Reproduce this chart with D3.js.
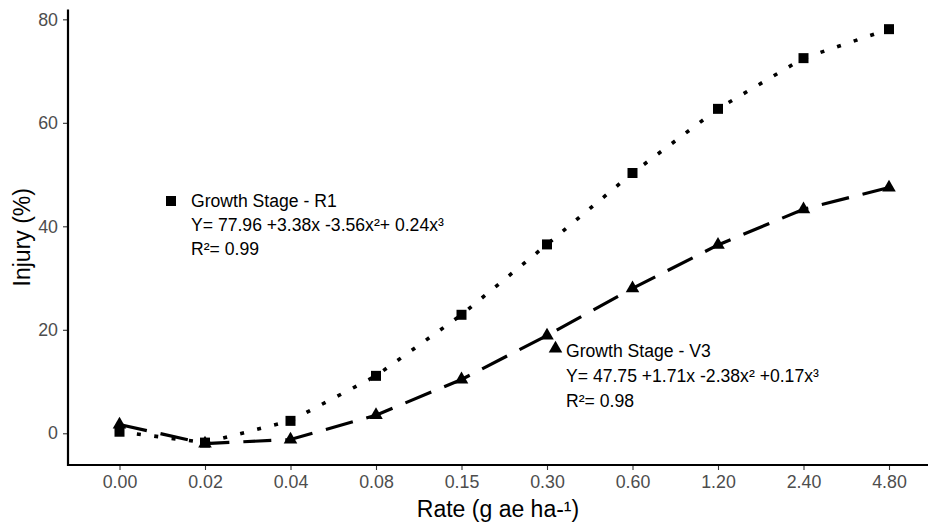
<!DOCTYPE html>
<html>
<head>
<meta charset="utf-8">
<script src="https://cdn.jsdelivr.net/npm/d3@7"></script>
<style>
  html, body { margin: 0; padding: 0; background: #fff; }
  svg { display: block; font-family: "Liberation Sans", Arial, sans-serif; }
</style>
</head>
<body>
<svg id="chart" width="928" height="525"></svg>
<script>
// ---- data ----
const rates = ["0.00", "0.02", "0.04", "0.08", "0.15", "0.30", "0.60", "1.20", "2.40", "4.80"];
const injuryR1 = [0.3, -1.8, 2.4, 11.1, 22.9, 36.5, 50.3, 62.7, 72.5, 78.1];
const injuryV3 = [1.7, -2.0, -1.2, 3.5, 10.4, 18.9, 28.0, 36.4, 43.3, 47.5];
const yTicks = [0, 20, 40, 60, 80];
const labelR1 = ["Growth Stage - R1", "Y= 77.96 +3.38x -3.56x²+ 0.24x³", "R²= 0.99"];
const labelV3 = ["Growth Stage - V3", "Y= 47.75 +1.71x -2.38x² +0.17x³", "R²= 0.98"];

// ---- layout ----
const svg = d3.select("#chart");
const panel = { left: 68, right: 928, top: 9.5, bottom: 465 };

const x = d3.scalePoint().domain(rates).range([119.5, 889]);
const y = d3.scaleLinear().domain([-6.13, 81.9]).range([panel.bottom, panel.top]);

const FONT = "'Liberation Sans', Arial, sans-serif";

// axes
const xAxis = svg.append("g")
  .attr("transform", `translate(0,${panel.bottom})`)
  .call(d3.axisBottom(x).tickSizeOuter(0).tickSize(5).tickPadding(5));
xAxis.select(".domain").remove();
xAxis.selectAll(".tick line").attr("stroke", "#333").attr("stroke-width", 1.1);
xAxis.selectAll(".tick text").attr("fill", "#4d4d4d").style("font-size", "17.8px")
  .style("font-family", FONT);

const yAxis = svg.append("g")
  .attr("transform", `translate(${panel.left},0)`)
  .call(d3.axisLeft(y).tickValues(yTicks).tickSize(5).tickPadding(5).tickFormat(d3.format("d")));
yAxis.select(".domain").remove();
yAxis.selectAll(".tick line").attr("stroke", "#333").attr("stroke-width", 1.1);
yAxis.selectAll(".tick text").attr("fill", "#4d4d4d").style("font-size", "17.8px")
  .style("font-family", FONT);

// axis lines
svg.append("line").attr("x1", panel.left).attr("x2", panel.right)
  .attr("y1", panel.bottom).attr("y2", panel.bottom)
  .attr("stroke", "#000").attr("stroke-width", 2.2);
svg.append("line").attr("x1", panel.left).attr("x2", panel.left)
  .attr("y1", panel.top).attr("y2", panel.bottom + 1.1)
  .attr("stroke", "#000").attr("stroke-width", 2.2);

// axis titles
svg.append("text").attr("x", (panel.left + panel.right) / 2).attr("y", 517)
  .attr("text-anchor", "middle").style("font-size", "23px").attr("fill", "#000")
  .text("Rate (g ae ha-¹)");
svg.append("text").attr("transform", `translate(30,${(panel.top + panel.bottom) / 2}) rotate(-90)`)
  .attr("text-anchor", "middle").style("font-size", "23px").attr("fill", "#000")
  .text("Injury (%)");

// lines
const line = d3.line().x((d, i) => x(rates[i])).y(d => y(d));
svg.append("path").datum(injuryR1).attr("d", line)
  .attr("fill", "none").attr("stroke", "#000").attr("stroke-width", 3.6)
  .attr("stroke-dasharray", "4,13.5");
svg.append("path").datum(injuryV3).attr("d", line)
  .attr("fill", "none").attr("stroke", "#000").attr("stroke-width", 3.2)
  .attr("stroke-dasharray", "28,14");

// points
const sq = d3.symbol().type(d3.symbolSquare).size(100);
const tri = d3.symbol().type(d3.symbolTriangle).size(80);
svg.append("g").selectAll("path").data(injuryV3).join("path")
  .attr("d", tri).attr("fill", "#000")
  .attr("transform", (d, i) => `translate(${x(rates[i])},${y(d)})`);
svg.append("g").selectAll("path").data(injuryR1).join("path")
  .attr("d", sq).attr("fill", "#000")
  .attr("transform", (d, i) => `translate(${x(rates[i])},${y(d)})`);

// annotations
function annotate(lines, sym, sx, sy, tx, ty, gap) {
  svg.append("path").attr("d", sym).attr("fill", "#000")
    .attr("transform", `translate(${sx},${sy})`);
  const t = svg.append("text").attr("fill", "#000").style("font-size", "17.6px");
  lines.forEach((s, i) => {
    t.append("tspan").attr("x", tx).attr("y", ty + i * gap).text(s);
  });
}
annotate(labelR1, d3.symbol().type(d3.symbolSquare).size(100)(), 171, 201, 191, 207, 24);
annotate(labelV3, d3.symbol().type(d3.symbolTriangle).size(80)(), 555.5, 348.5, 566, 356.5, 25);
</script>
</body>
</html>
